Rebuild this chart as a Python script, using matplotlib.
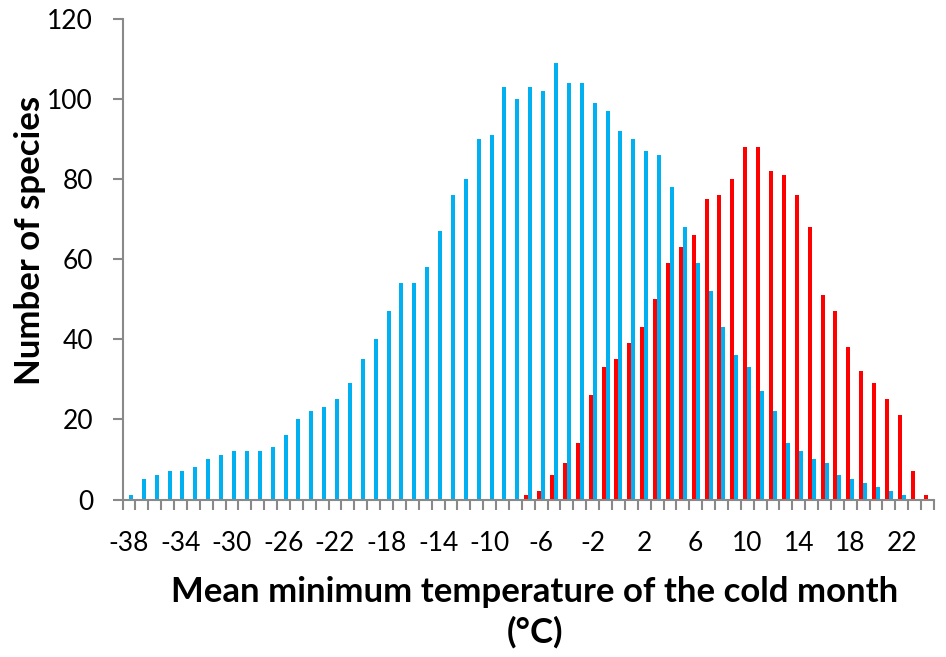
import numpy as np
import matplotlib
matplotlib.use("Agg")
import matplotlib.pyplot as plt
from matplotlib.ticker import FixedLocator, NullFormatter

# categories: mean minimum temperature of the cold month (°C)
temps = list(range(-38, 25))

# blue series, -38 .. 24
blue_counts = [1, 5, 6, 7, 7, 8, 10, 11, 12, 12,
               12, 13, 16, 20, 22, 23, 25, 29, 35, 40,
               47, 54, 54, 58, 67, 76, 80, 90, 91, 103,
               100, 103, 102, 109, 104, 104, 99, 97, 92, 90,
               87, 86, 78, 68, 59, 52, 43, 36, 33, 27,
               22, 14, 12, 10, 9, 6, 5, 4, 3, 2,
               1, 0, 0]

# red series, -38 .. 24
red_counts = [0] * 31 + [1, 2, 6, 9, 14, 26, 33, 35, 39, 43,
                         50, 59, 63, 66, 75, 76, 80, 88, 88, 82,
                         81, 76, 68, 51, 47, 38, 32, 29, 25, 21,
                         7, 1]

tick_labels = [str(t) for t in range(-38, 23, 4)]

BLUE = "#00B0F0"
RED = "#FF0000"
GREY = "#898989"

plt.rcParams["font.family"] = ["Lato", "DejaVu Sans"]

fig = plt.figure(figsize=(9.46, 6.57), dpi=100)
ax = fig.add_axes([122.5 / 946, 1 - 499.5 / 657, (934 - 122.5) / 946, (499.5 - 19) / 657])

x = np.arange(len(temps))
w = 0.31
ax.bar(x - w / 2, red_counts, width=w, color=RED, linewidth=0)
ax.bar(x + w / 2, blue_counts, width=w, color=BLUE, linewidth=0)

ax.set_xlim(-0.5, len(temps) - 0.5)
ax.set_ylim(0, 120)
ax.set_yticks(range(0, 121, 20))

label_pos = [temps.index(int(t)) for t in tick_labels]
ax.set_xticks(label_pos)
ax.set_xticklabels(tick_labels)
ax.xaxis.set_minor_locator(FixedLocator(np.arange(-0.5, len(temps), 1)))
ax.xaxis.set_minor_formatter(NullFormatter())

for s in ["top", "right"]:
    ax.spines[s].set_visible(False)
for s in ["left", "bottom"]:
    ax.spines[s].set_color(GREY)
    ax.spines[s].set_linewidth(1.5)

ax.tick_params(axis="x", which="major", length=0, pad=23, labelsize=19)
ax.tick_params(axis="x", which="minor", length=7.2, width=1.5, color=GREY, direction="out")
ax.tick_params(axis="y", length=7.2, width=1.5, color=GREY, pad=14, labelsize=19)

fig.text(535 / 946, 1 - 592 / 657, "Mean minimum temperature of the cold month",
         ha="center", va="center", fontsize=25, fontweight="bold")
fig.text(535 / 946, 1 - 632 / 657, "(°C)",
         ha="center", va="center", fontsize=25, fontweight="bold")
fig.text(30 / 946, 1 - 240 / 657, "Number of species", rotation=90,
         ha="center", va="center", fontsize=25, fontweight="bold")

fig.savefig("out.png", dpi=100)
